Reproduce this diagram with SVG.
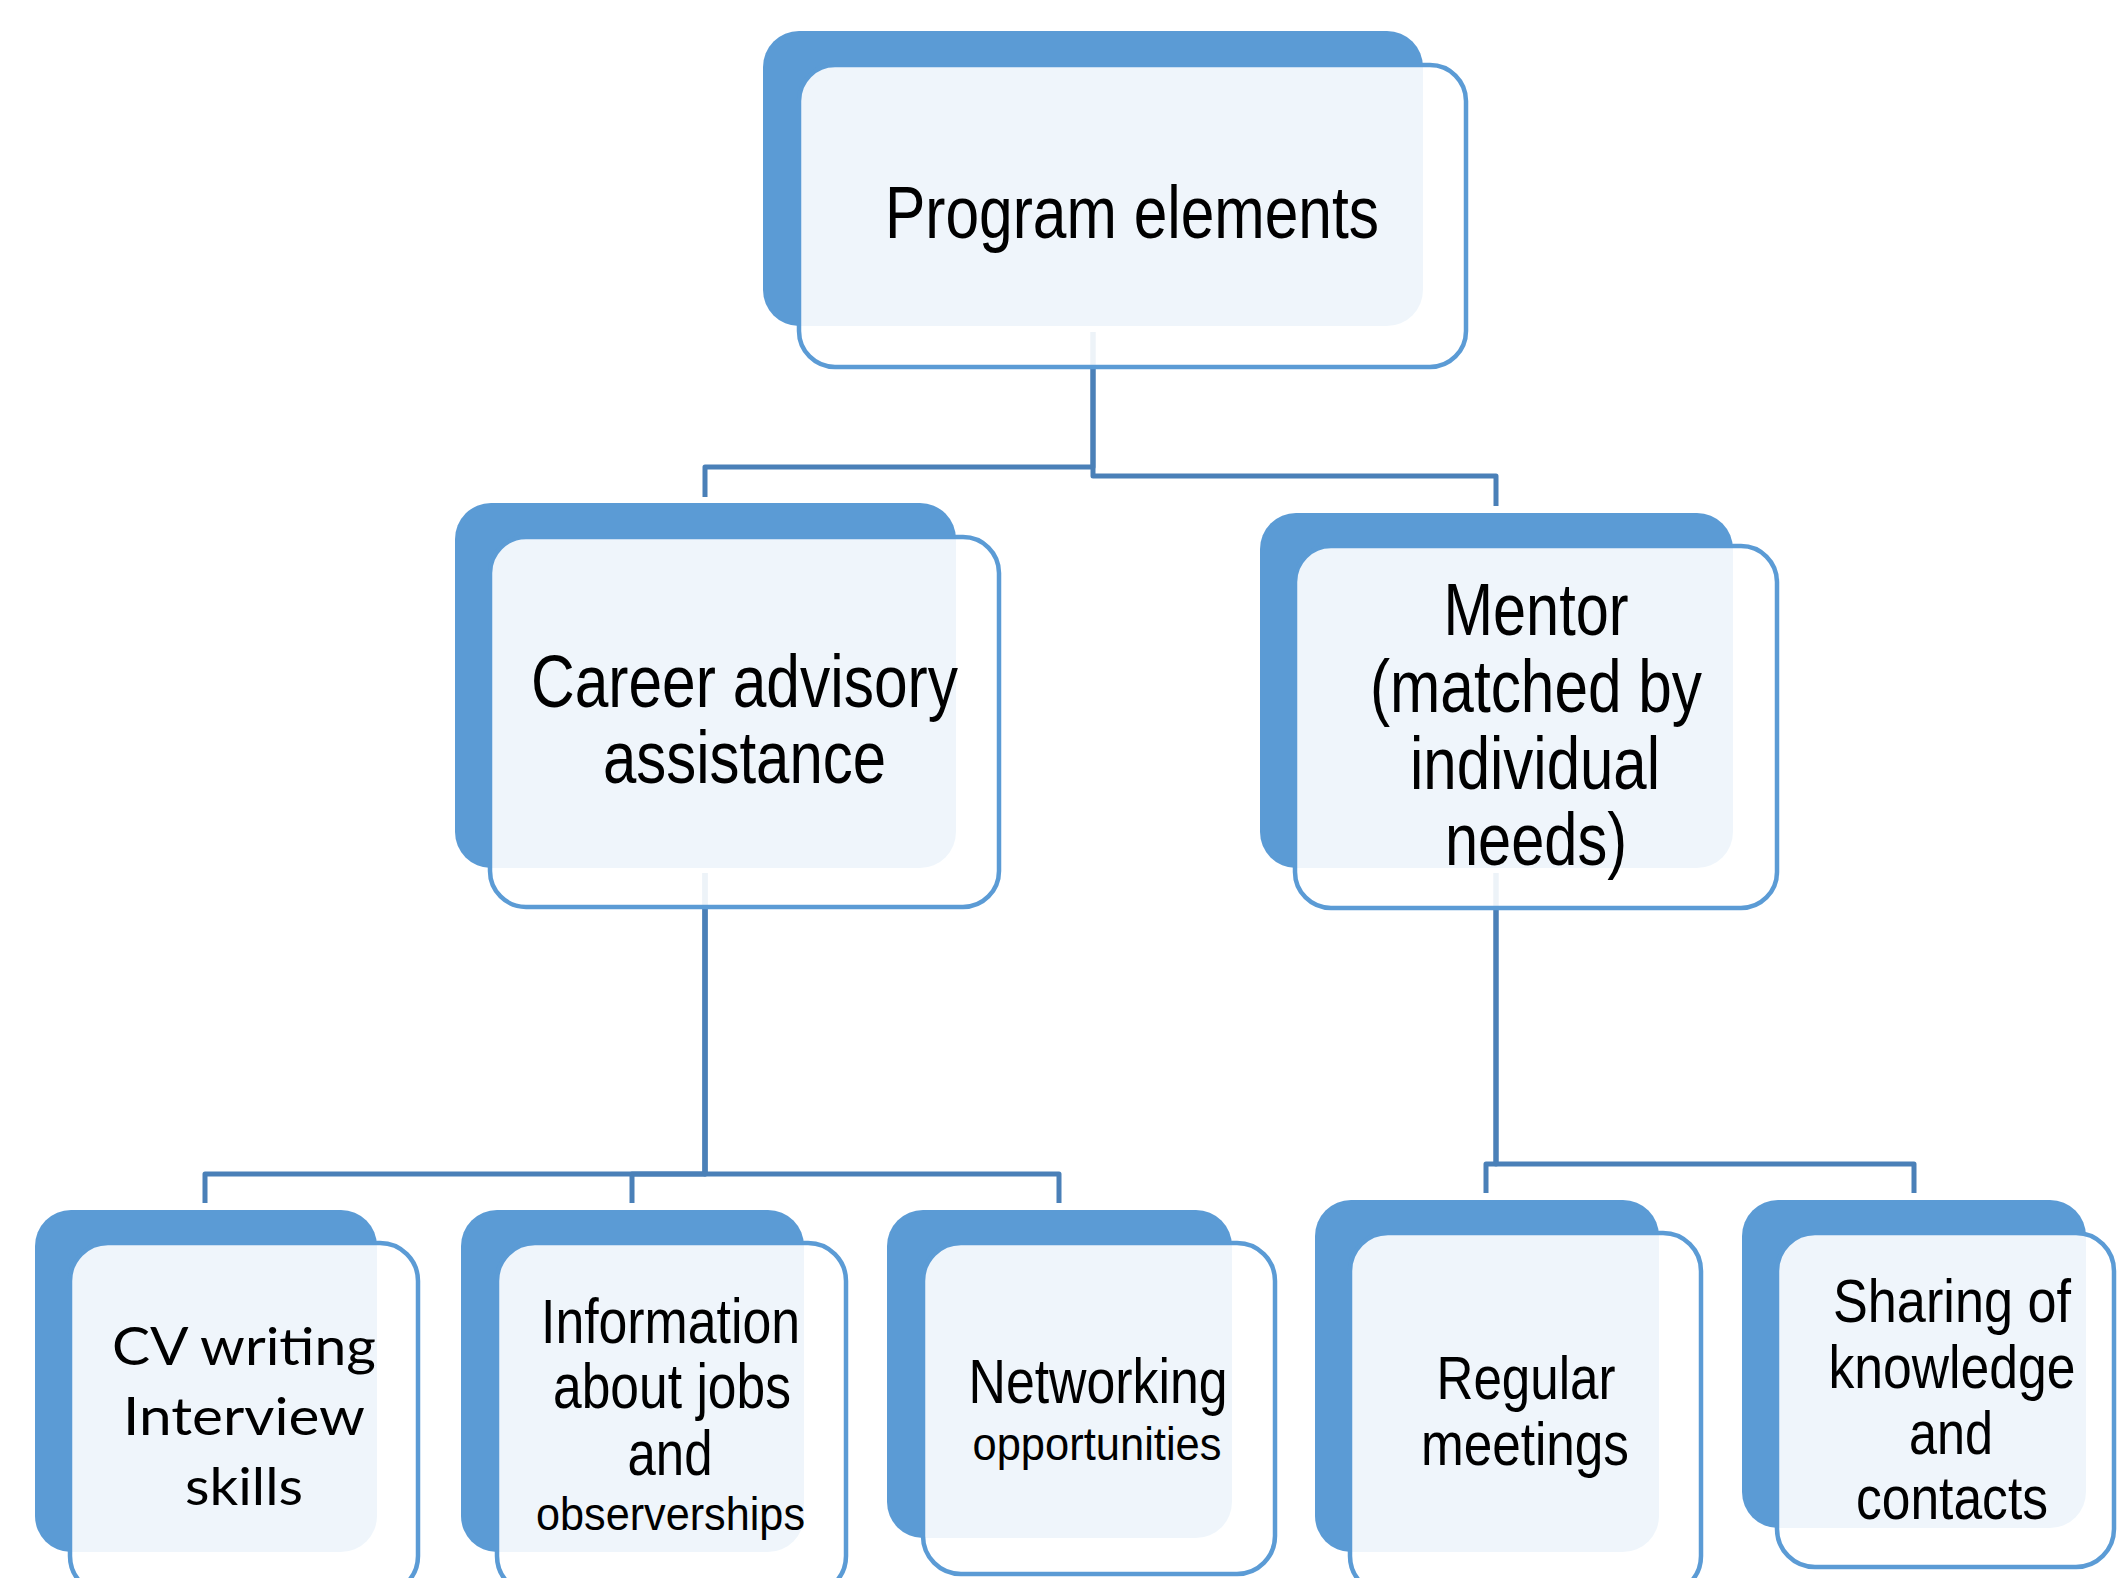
<svg xmlns="http://www.w3.org/2000/svg" width="2117" height="1578" viewBox="0 0 2117 1578">
  <style>
    .back { fill: #5B9BD5; }
    .front { fill: #FFFFFF; fill-opacity: 0.9; stroke: #5B9BD5; stroke-width: 4.5; }
    .link { fill: none; stroke: #4A80B8; stroke-width: 5; stroke-linejoin: round; }
    .lbl { font-family: "Liberation Sans", Arial, sans-serif; fill: #000000; text-anchor: middle; }
    .lbl2 { font-family: Lato, "Open Sans", "Liberation Sans", sans-serif; fill: #000000; text-anchor: middle; }
  </style>

  <rect width="2117" height="1578" fill="#FFFFFF"/>

  <!-- connectors (drawn beneath the translucent front cards) -->
  <g id="connectors">
    <path class="link" d="M1093,332 V467 H705 V497"/>
    <path class="link" d="M1093,332 V476 H1496 V506"/>
    <path class="link" d="M705,873 V1174 H205 V1203"/>
    <path class="link" d="M705,873 V1174 H632 V1203"/>
    <path class="link" d="M705,873 V1174 H1059 V1203"/>
    <path class="link" d="M1496,873 V1164 H1486 V1193"/>
    <path class="link" d="M1496,873 V1164 H1914 V1193"/>
  </g>

  <!-- root -->
  <g id="node-program">
    <rect class="back" x="763" y="31" width="660" height="295" rx="36"/>
    <rect class="front" x="799" y="65" width="667" height="302" rx="36"/>
    <text class="lbl" x="1132" y="238" font-size="74" textLength="494" lengthAdjust="spacingAndGlyphs">Program elements</text>
  </g>

  <!-- second level -->
  <g id="node-career">
    <rect class="back" x="455" y="503" width="501" height="365" rx="36"/>
    <rect class="front" x="490" y="537" width="509" height="370" rx="36"/>
    <text class="lbl" x="744.5" y="707" font-size="74" textLength="427" lengthAdjust="spacingAndGlyphs">Career advisory</text>
    <text class="lbl" x="744.5" y="783" font-size="74" textLength="283" lengthAdjust="spacingAndGlyphs">assistance</text>
  </g>

  <g id="node-mentor">
    <rect class="back" x="1260" y="513" width="473" height="355" rx="36"/>
    <rect class="front" x="1295" y="546" width="482" height="362" rx="36"/>
    <text class="lbl" x="1536" y="635" font-size="74" textLength="185" lengthAdjust="spacingAndGlyphs">Mentor</text>
    <text class="lbl" x="1536" y="712" font-size="74" textLength="332" lengthAdjust="spacingAndGlyphs">(matched by</text>
    <text class="lbl" x="1535" y="789" font-size="74" textLength="250" lengthAdjust="spacingAndGlyphs">individual</text>
    <text class="lbl" x="1536" y="865" font-size="74" textLength="182" lengthAdjust="spacingAndGlyphs">needs)</text>
  </g>

  <!-- third level -->
  <g id="node-cv">
    <rect class="back" x="35" y="1210" width="342" height="342" rx="36"/>
    <rect class="front" x="70" y="1243" width="348" height="351" rx="38"/>
    <text class="lbl2" x="244" y="1365" font-size="53" textLength="264" lengthAdjust="spacingAndGlyphs">CV writing</text>
    <text class="lbl2" x="244" y="1435" font-size="53" textLength="242" lengthAdjust="spacingAndGlyphs">Interview</text>
    <text class="lbl2" x="244" y="1505" font-size="53" textLength="118" lengthAdjust="spacingAndGlyphs">skills</text>
  </g>

  <g id="node-information">
    <rect class="back" x="461" y="1210" width="343" height="342" rx="36"/>
    <rect class="front" x="497" y="1243" width="349" height="351" rx="38"/>
    <text class="lbl" x="670.5" y="1343" font-size="63" textLength="259" lengthAdjust="spacingAndGlyphs">Information</text>
    <text class="lbl" x="672" y="1408" font-size="63" textLength="238" lengthAdjust="spacingAndGlyphs">about jobs</text>
    <text class="lbl" x="670" y="1475" font-size="63" textLength="85" lengthAdjust="spacingAndGlyphs">and</text>
    <text class="lbl" x="670.5" y="1530" font-size="46" textLength="269" lengthAdjust="spacingAndGlyphs">observerships</text>
  </g>

  <g id="node-networking">
    <rect class="back" x="887" y="1210" width="345" height="328" rx="36"/>
    <rect class="front" x="923" y="1243" width="352" height="331" rx="38"/>
    <text class="lbl" x="1098" y="1403" font-size="63" textLength="259" lengthAdjust="spacingAndGlyphs">Networking</text>
    <text class="lbl" x="1097" y="1460" font-size="47" textLength="249" lengthAdjust="spacingAndGlyphs">opportunities</text>
  </g>

  <g id="node-meetings">
    <rect class="back" x="1315" y="1200" width="344" height="352" rx="36"/>
    <rect class="front" x="1350" y="1233" width="351" height="361" rx="38"/>
    <text class="lbl" x="1526" y="1399" font-size="61" textLength="179" lengthAdjust="spacingAndGlyphs">Regular</text>
    <text class="lbl" x="1525" y="1465" font-size="61" textLength="208" lengthAdjust="spacingAndGlyphs">meetings</text>
  </g>

  <g id="node-sharing">
    <rect class="back" x="1742" y="1200" width="344" height="328" rx="36"/>
    <rect class="front" x="1777" y="1233" width="337" height="334" rx="38"/>
    <text class="lbl" x="1952" y="1322" font-size="61" textLength="238" lengthAdjust="spacingAndGlyphs">Sharing of</text>
    <text class="lbl" x="1952" y="1388" font-size="61" textLength="247" lengthAdjust="spacingAndGlyphs">knowledge</text>
    <text class="lbl" x="1951" y="1454" font-size="61" textLength="84" lengthAdjust="spacingAndGlyphs">and</text>
    <text class="lbl" x="1952" y="1519" font-size="61" textLength="192" lengthAdjust="spacingAndGlyphs">contacts</text>
  </g>
</svg>
